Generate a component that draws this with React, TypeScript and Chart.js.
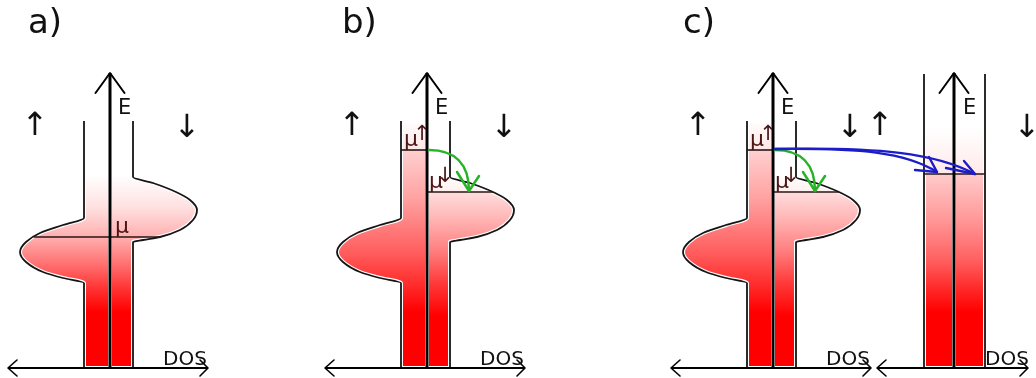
import { useEffect, useRef } from 'react';
import { Chart, registerables } from 'chart.js';

Chart.register(...registerables);

// Energy runs upward from the bottom edge of the drawing; DOS runs sideways.
const baseE = 10;      // level of the DOS axis
const bandTopE = 257;  // top of the drawn band edges
const axisTopE = 305;  // tip of the E arrow

// spin-up density of states (to the left of the E axis)
const upBandDos = 26;
const upLobeE = [95, 100, 106, 116, 126, 136, 145, 153, 160];
const upLobeDos = [26, 47, 67, 84, 90, 84, 70, 47, 26];

// spin-down density of states (to the right of the E axis)
const downBandDos = 23;
const downLobeE = [136, 138, 141, 148, 158, 168, 178, 186, 195, 201];
const downLobeDos = [23, 33, 50, 70, 83, 87, 80, 66, 43, 23];

// chemical potentials of the three situations
const panelLabels = ['a)', 'b)', 'c)'];
const muUp = [141, 228, 228];
const muDown = [141, 186, 186];

// non-magnetic metal on the right of panel c
const leadUpDos = 30;
const leadDownDos = 31;
const leadTopE = 304;
const leadMu = 204;

// where each E axis sits across the page
const panelAxisX = [110, 427, 773];
const leadAxisX = 954;
const titleX = [28, 342, 683];

type Stop = [number, string];
// occupation shading, top (white) to bottom (full red)
const shadeA: Stop[] = [[203, '#ffffff'], [172, '#ffe2e2'], [141, '#ffb0b0'], [112, '#ff6c6c'], [88, '#ff3030'], [66, '#ff0000']];
const shadeUp: Stop[] = [[258, '#ffffff'], [229, '#ffe6e6'], [227, '#ffcfcf'], [180, '#ffa2a2'], [126, '#ff5e5e'], [92, '#ff2a2a'], [66, '#ff0000']];
const shadeDown: Stop[] = [[203, '#ffffff'], [187, '#fff0f0'], [185, '#ffdcdc'], [160, '#ffb6b6'], [128, '#ff8080'], [95, '#ff3a3a'], [62, '#ff0000']];
const shadeLead: Stop[] = [[250, '#ffffff'], [205, '#ffeaea'], [203, '#ffcaca'], [160, '#ff9a9a'], [118, '#ff6060'], [90, '#ff2a2a'], [66, '#ff0000']];

const FONT = '"DejaVu Sans", Verdana, sans-serif';
const EDGE = '#151515';
const LEVEL = '#2a1414';
const MU_TEXT = '#4a1616';

const shade = (stops: Stop[]) => (context: any) => {
  const chart = context.chart;
  const ys = chart.scales && chart.scales.y;
  if (!ys || !chart.chartArea) return '#ff9090';
  const top = ys.getPixelForValue(stops[0][0]);
  const bottom = ys.getPixelForValue(stops[stops.length - 1][0]);
  const g = chart.ctx.createLinearGradient(0, top, 0, bottom);
  stops.forEach(([e, c]) => g.addColorStop((ys.getPixelForValue(e) - top) / (bottom - top), c));
  return g;
};

// DOS at energy e, read along the lobe (band value outside it)
function dosAt(es: number[], ds: number[], band: number, e: number) {
  for (let i = 0; i < es.length - 1; i++) {
    if (e >= es[i] && e <= es[i + 1]) {
      const t = (e - es[i]) / (es[i + 1] - es[i]);
      return ds[i] + t * (ds[i + 1] - ds[i]);
    }
  }
  return band;
}

type Pt = { x: number; y: number };

function edge(ax: number, sign: number, band: number, es: number[], ds: number[]): Pt[] {
  return [
    { x: ax + sign * band, y: baseE },
    ...es.map((e, i) => ({ x: ax + sign * ds[i], y: e })),
    { x: ax + sign * band, y: bandTopE },
  ];
}

function region(ax: number, outline: Pt[], topE: number): Pt[] {
  return [{ x: ax, y: baseE }, ...outline, { x: ax, y: topE }, { x: ax, y: baseE }];
}

function fillSet(data: Pt[], stops: Stop[]) {
  return {
    data,
    fill: 'shape',
    backgroundColor: shade(stops),
    borderColor: '#ffffff',
    borderWidth: 4,
    order: 50,
  };
}

function lineSet(data: Pt[], color: string, width: number, order: number) {
  return { data, fill: false, borderColor: color, borderWidth: width, order };
}

function buildDatasets() {
  const sets: any[] = [];
  panelAxisX.forEach((ax, i) => {
    const upOut = edge(ax, -1, upBandDos, upLobeE, upLobeDos);
    const downOut = edge(ax, 1, downBandDos, downLobeE, downLobeDos);
    sets.push(fillSet(region(ax, upOut, bandTopE), i === 0 ? shadeA : shadeUp));
    sets.push(fillSet(region(ax, downOut, bandTopE), i === 0 ? shadeA : shadeDown));
    sets.push(lineSet(upOut, EDGE, 1.8, 20));
    sets.push(lineSet(downOut, EDGE, 1.8, 20));
    if (muUp[i] === muDown[i]) {
      const mu = muUp[i];
      sets.push(lineSet([
        { x: ax - dosAt(upLobeE, upLobeDos, upBandDos, mu), y: mu },
        { x: ax + dosAt(downLobeE, downLobeDos, downBandDos, mu), y: mu },
      ], LEVEL, 1.6, 15));
    } else {
      sets.push(lineSet([
        { x: ax - dosAt(upLobeE, upLobeDos, upBandDos, muUp[i]), y: muUp[i] },
        { x: ax, y: muUp[i] },
      ], LEVEL, 1.6, 15));
      sets.push(lineSet([
        { x: ax, y: muDown[i] },
        { x: ax + dosAt(downLobeE, downLobeDos, downBandDos, muDown[i]), y: muDown[i] },
      ], LEVEL, 1.6, 15));
    }
    sets.push(lineSet([{ x: ax, y: baseE }, { x: ax, y: axisTopE }], '#000000', 3, 10));
    sets.push(lineSet([{ x: ax - 102, y: baseE }, { x: ax + 98, y: baseE }], '#000000', 2, 10));
  });

  const L = leadAxisX;
  const leadUp: Pt[] = [{ x: L - leadUpDos, y: baseE }, { x: L - leadUpDos, y: leadTopE }];
  const leadDown: Pt[] = [{ x: L + leadDownDos, y: baseE }, { x: L + leadDownDos, y: leadTopE }];
  sets.push(fillSet(region(L, leadUp, leadTopE), shadeLead));
  sets.push(fillSet(region(L, leadDown, leadTopE), shadeLead));
  sets.push(lineSet(leadUp, EDGE, 1.8, 20));
  sets.push(lineSet(leadDown, EDGE, 1.8, 20));
  sets.push(lineSet([{ x: L - leadUpDos, y: leadMu }, { x: L + leadDownDos, y: leadMu }], LEVEL, 1.6, 15));
  sets.push(lineSet([{ x: L, y: baseE }, { x: L, y: axisTopE }], '#000000', 3, 10));
  sets.push(lineSet([{ x: L - 77, y: baseE }, { x: L + 74, y: baseE }], '#000000', 2, 10));
  return sets;
}

// arrowheads, transfer arrows and labels, placed through the chart scales
const overlay = {
  id: 'dosOverlay',
  afterDatasetsDraw(chart: any) {
    const { ctx } = chart;
    const xs = chart.scales.x;
    const ys = chart.scales.y;
    const X = (v: number) => xs.getPixelForValue(v);
    const Y = (e: number) => ys.getPixelForValue(e);
    const poly = (p: number[][], color: string, w: number) => {
      ctx.beginPath();
      p.forEach(([x, e], i) => (i ? ctx.lineTo(X(x), Y(e)) : ctx.moveTo(X(x), Y(e))));
      ctx.strokeStyle = color;
      ctx.lineWidth = w;
      ctx.stroke();
    };
    const curve = (p: number[][], color: string, w: number) => {
      ctx.beginPath();
      ctx.moveTo(X(p[0][0]), Y(p[0][1]));
      ctx.bezierCurveTo(X(p[1][0]), Y(p[1][1]), X(p[2][0]), Y(p[2][1]), X(p[3][0]), Y(p[3][1]));
      ctx.strokeStyle = color;
      ctx.lineWidth = w;
      ctx.stroke();
    };
    const head = (tip: number[], arms: number[][], color: string, w: number) => {
      poly([[tip[0] + arms[0][0], tip[1] + arms[0][1]], tip, [tip[0] + arms[1][0], tip[1] + arms[1][1]]], color, w);
    };
    const text = (s: string, x: number, e: number, size: number, color: string, align: CanvasTextAlign = 'left') => {
      ctx.font = `${size}px ${FONT}`;
      ctx.fillStyle = color;
      ctx.textAlign = align;
      ctx.textBaseline = 'alphabetic';
      ctx.fillText(s, X(x), Y(e));
    };

    ctx.save();
    ctx.lineJoin = 'round';
    ctx.lineCap = 'round';

    // axis arrowheads
    [...panelAxisX, leadAxisX].forEach((ax, k) => {
      poly([[ax - 14.5, axisTopE - 20], [ax, axisTopE], [ax + 14.5, axisTopE - 20]], '#000000', 2);
      const l = k < 3 ? ax - 102 : ax - 77;
      const r = k < 3 ? ax + 98 : ax + 74;
      poly([[l + 9, baseE + 8], [l, baseE], [l + 9, baseE - 8]], '#000000', 1.6);
      poly([[r - 8, baseE + 8], [r, baseE], [r - 8, baseE - 8]], '#000000', 1.6);
    });

    // spin-flip relaxation inside the magnet (panels b and c)
    [1, 2].forEach((i) => {
      const ax = panelAxisX[i];
      const tip = [ax + 42, muDown[i] + 1];
      curve([[ax + 2, muUp[i]], [ax + 28, muUp[i]], [ax + 42, muUp[i] - 14], tip], '#26b326', 2.5);
      head(tip, [[-12, 19], [10, 15]], '#26b326', 2.5);
    });

    // transfer into the metal (panel c)
    const c0 = panelAxisX[2];
    const L = leadAxisX;
    const t1 = [L - 17, 206];
    const t2 = [L + 21, 204];
    curve([[c0 + 2, muUp[2] + 1], [860, 230], [905, 226], t1], '#1c1cc8', 2.4);
    head(t1, [[-22, 2], [-8, 15]], '#1c1cc8', 2.4);
    curve([[c0 + 2, muUp[2] + 1], [880, 231], [935, 225], t2], '#1c1cc8', 2.4);
    head(t2, [[-29, 6], [-11, 13]], '#1c1cc8', 2.4);

    // panel titles
    panelLabels.forEach((s, i) => text(s, titleX[i], 345, 34, '#111111'));

    // axis names and spin directions
    panelAxisX.forEach((ax) => {
      text('E', ax + 8, 264, 21, '#111111');
      text('DOS', ax + 53, 13, 20, '#111111');
      text('↑', ax - 75, 243, 32, '#111111', 'center');
      text('↓', ax + 77, 241, 32, '#111111', 'center');
    });
    text('E', L + 9, 264, 21, '#111111');
    text('DOS', L + 31, 13, 20, '#111111');
    text('↑', L - 74, 243, 32, '#111111', 'center');
    text('↓', L + 73, 241, 32, '#111111', 'center');

    // chemical potential labels
    const a = panelAxisX[0];
    text('μ', a + 5, muUp[0] + 4, 22, MU_TEXT);
    [1, 2].forEach((i) => {
      const ax = panelAxisX[i];
      text('μ', ax - 23, muUp[i] + 4, 22, MU_TEXT);
      text('↑', ax - 5, muUp[i] + 10, 21, MU_TEXT, 'center');
      text('μ', ax + 2, muDown[i] + 4, 22, MU_TEXT);
      text('↓', ax + 18, muDown[i] + 10, 21, MU_TEXT, 'center');
    });

    ctx.restore();
  },
};

export default function App() {
  const ref = useRef<HTMLCanvasElement>(null);

  useEffect(() => {
    if (!ref.current) return;
    const chart = new Chart(ref.current, {
      type: 'line',
      data: { datasets: buildDatasets() },
      options: {
        animation: false,
        responsive: false,
        indexAxis: 'y',
        events: [],
        layout: { padding: 0 },
        elements: {
          point: { radius: 0, hoverRadius: 0 },
          line: { cubicInterpolationMode: 'monotone', capBezierPoints: false },
        },
        scales: {
          x: { type: 'linear', min: 0, max: 1036, display: false },
          y: { type: 'linear', min: 0, max: 378, display: false },
        },
        plugins: { legend: { display: false }, tooltip: { enabled: false }, title: { display: false } },
      } as any,
      plugins: [overlay],
    });
    return () => chart.destroy();
  }, []);

  return (
    <div style={{ position: 'absolute', left: 0, top: 0, width: 1036, height: 378, background: '#ffffff' }}>
      <canvas ref={ref} width={1036} height={378} style={{ display: 'block' }} />
    </div>
  );
}
